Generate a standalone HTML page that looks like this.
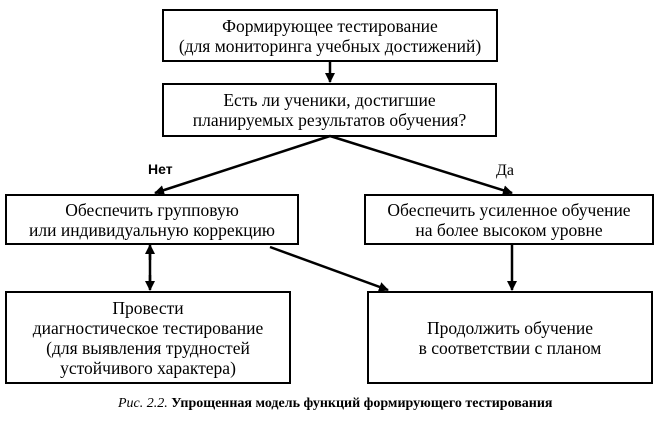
<!DOCTYPE html>
<html><head><meta charset="utf-8"><style>
html,body{margin:0;padding:0;background:#fff;}
body{width:656px;height:431px;position:relative;overflow:hidden;font-family:"Liberation Serif",serif;color:#000;}
.b{position:absolute;border:2px solid #000;box-sizing:border-box;display:flex;align-items:center;justify-content:center;text-align:center;font-size:17.5px;line-height:20px;white-space:nowrap;}
.t{position:absolute;font-size:16px;}
svg{position:absolute;left:0;top:0;}
</style></head><body>
<svg width="656" height="431">
<defs><marker id="a" markerWidth="10" markerHeight="10" refX="9" refY="5" orient="auto" markerUnits="userSpaceOnUse"><path d="M0,0 L10,5 L0,10 Z" fill="#000"/></marker></defs>
<g stroke="#000" stroke-width="2.5" fill="none">
<line x1="330" y1="61" x2="330" y2="82" marker-end="url(#a)"/>
<line x1="330" y1="136" x2="155" y2="193" marker-end="url(#a)"/>
<line x1="330" y1="136" x2="512" y2="193" marker-end="url(#a)"/>
<line x1="150" y1="254" x2="150" y2="281"/>
<line x1="150" y1="260" x2="150" y2="245" marker-end="url(#a)"/>
<line x1="150" y1="275" x2="150" y2="290" marker-end="url(#a)"/>
<line x1="270" y1="247" x2="388" y2="290" marker-end="url(#a)"/>
<line x1="512" y1="244" x2="512" y2="290" marker-end="url(#a)"/>
</g></svg>
<div class="b" style="left:162px;top:9px;width:336px;height:53px;">Формирующее тестирование<br>(для мониторинга учебных достижений)</div>
<div class="b" style="left:162px;top:83px;width:335px;height:54px;">Есть ли ученики, достигшие<br>планируемых результатов обучения?</div>
<div class="b" style="left:5px;top:194px;width:294px;height:51px;">Обеспечить групповую<br>или индивидуальную коррекцию</div>
<div class="b" style="left:364px;top:194px;width:290px;height:51px;">Обеспечить усиленное обучение<br>на более высоком уровне</div>
<div class="b" style="left:5px;top:291px;width:286px;height:93px;">Провести<br>диагностическое тестирование<br>(для выявления трудностей<br>устойчивого характера)</div>
<div class="b" style="left:367px;top:291px;width:286px;height:93px;">Продолжить обучение<br>в соответствии с планом</div>
<div class="t" style="left:148px;top:161px;font-family:'Liberation Sans',sans-serif;font-weight:bold;font-size:14px;">Нет</div>
<div class="t" style="left:496px;top:162px;">Да</div>
<div class="t" style="left:118px;top:396px;font-weight:bold;font-size:14px;"><i style="font-weight:normal">Рис. 2.2.</i> Упрощенная модель функций формирующего тестирования</div>
</body></html>
